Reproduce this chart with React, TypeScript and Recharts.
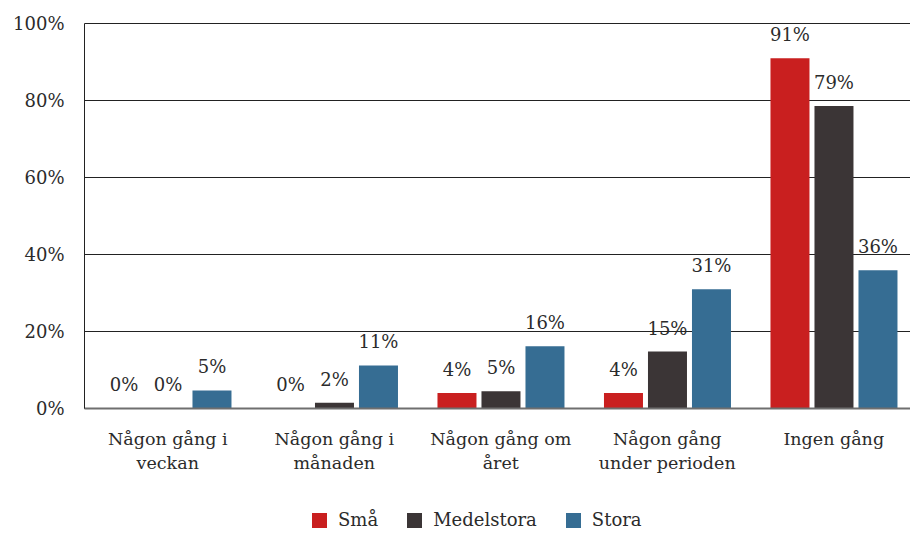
import React from "react";
import {
  BarChart,
  Bar,
  XAxis,
  YAxis,
  CartesianGrid,
  Legend,
  LabelList,
} from "recharts";

const categories = [
  "Någon gång i\nveckan",
  "Någon gång i\nmånaden",
  "Någon gång om\nåret",
  "Någon gång\nunder perioden",
  "Ingen gång",
];
const sma = [0, 0, 4.0, 4.0, 91.0];
const medelstora = [0, 1.5, 4.5, 14.8, 78.6];
const stora = [4.7, 11.2, 16.2, 31.0, 35.9];
const yTicks = [0, 20, 40, 60, 80, 100];

const seriesNames = ["Små", "Medelstora", "Stora"];
const colors = ["#C91F1F", "#3B3536", "#366D93"];

const FONT = "'DejaVu Serif', serif";
const TEXT = "#2b2b2b";

const data = categories.map((c, i) => ({
  name: c,
  sma: sma[i],
  medelstora: medelstora[i],
  stora: stora[i],
}));

const fmt = (v: any) => `${Math.round(Number(v))}%`;

// keep zero-value bars in the layout (invisible sliver) so their labels render
const keepZero = (v: any) => (Number(v) === 0 ? 0.01 : 0);

const ValueLabel = (props: any) => {
  const { x, y, width, value } = props;
  if (x == null || y == null) return null;
  return (
    <text
      x={Number(x) + Number(width) / 2}
      y={Number(y) - 17}
      textAnchor="middle"
      fontFamily={FONT}
      fontSize={18}
      fill={TEXT}
    >
      {fmt(value)}
    </text>
  );
};

const CategoryTick = (props: any) => {
  const { x, y, payload } = props;
  const lines = String(payload.value).split("\n");
  return (
    <g>
      <text
        textAnchor="middle"
        fontFamily={FONT}
        fontSize={17.5}
        fill={TEXT}
      >
        {lines.map((l, i) => (
          <tspan key={i} x={x} y={y + 36 + i * 24}>
            {l}
          </tspan>
        ))}
      </text>
    </g>
  );
};

const LegendContent = () => (
  <div
    style={{
      display: "flex",
      alignItems: "center",
      height: 30,
      paddingLeft: 312,
      fontFamily: FONT,
      fontSize: 18,
      color: TEXT,
      boxSizing: "border-box",
    }}
  >
    {seriesNames.map((n, i) => (
      <div
        key={n}
        style={{ display: "flex", alignItems: "center", marginRight: 29 }}
      >
        <div
          style={{
            width: 15,
            height: 15,
            background: colors[i],
            marginRight: 11,
          }}
        />
        <span style={{ lineHeight: "20px" }}>{n}</span>
      </div>
    ))}
  </div>
);

export default function App() {
  return (
    <div
      style={{
        position: "fixed",
        left: 0,
        top: 0,
        width: 910,
        height: 535,
        overflow: "hidden",
        background: "#fff",
      }}
    >
      <BarChart
        width={940}
        height={535}
        data={data}
        margin={{ top: 23.5, right: 23, left: 0, bottom: 0 }}
        barCategoryGap="12%"
        barGap={5}
        style={{ fontFamily: FONT }}
      >
        <CartesianGrid vertical={false} stroke="#222" strokeWidth={1} />
        <XAxis
          dataKey="name"
          height={96.5}
          tickLine={false}
          tickSize={0}
          tickMargin={0}
          axisLine={{ stroke: "#6f6f6f", strokeWidth: 2 }}
          tick={<CategoryTick />}
          interval={0}
        />
        <YAxis
          width={84.5}
          domain={[0, 100]}
          ticks={yTicks}
          tickFormatter={(v: any) => `${v}%`}
          tickLine={false}
          tickSize={0}
          tickMargin={20}
          axisLine={{ stroke: "#222", strokeWidth: 1 }}
          tick={{ fontSize: 18, fill: TEXT, fontFamily: FONT }}
        />
        <Legend
          verticalAlign="bottom"
          height={30}
          content={<LegendContent />}
          wrapperStyle={{ left: 0, width: 940 }}
        />
        {(["sma", "medelstora", "stora"] as const).map((k, i) => (
          <Bar
            key={k}
            dataKey={k}
            name={seriesNames[i]}
            fill={colors[i]}
            minPointSize={keepZero}
            isAnimationActive={false}
          >
            <LabelList dataKey={k} content={<ValueLabel />} />
          </Bar>
        ))}
      </BarChart>
    </div>
  );
}
